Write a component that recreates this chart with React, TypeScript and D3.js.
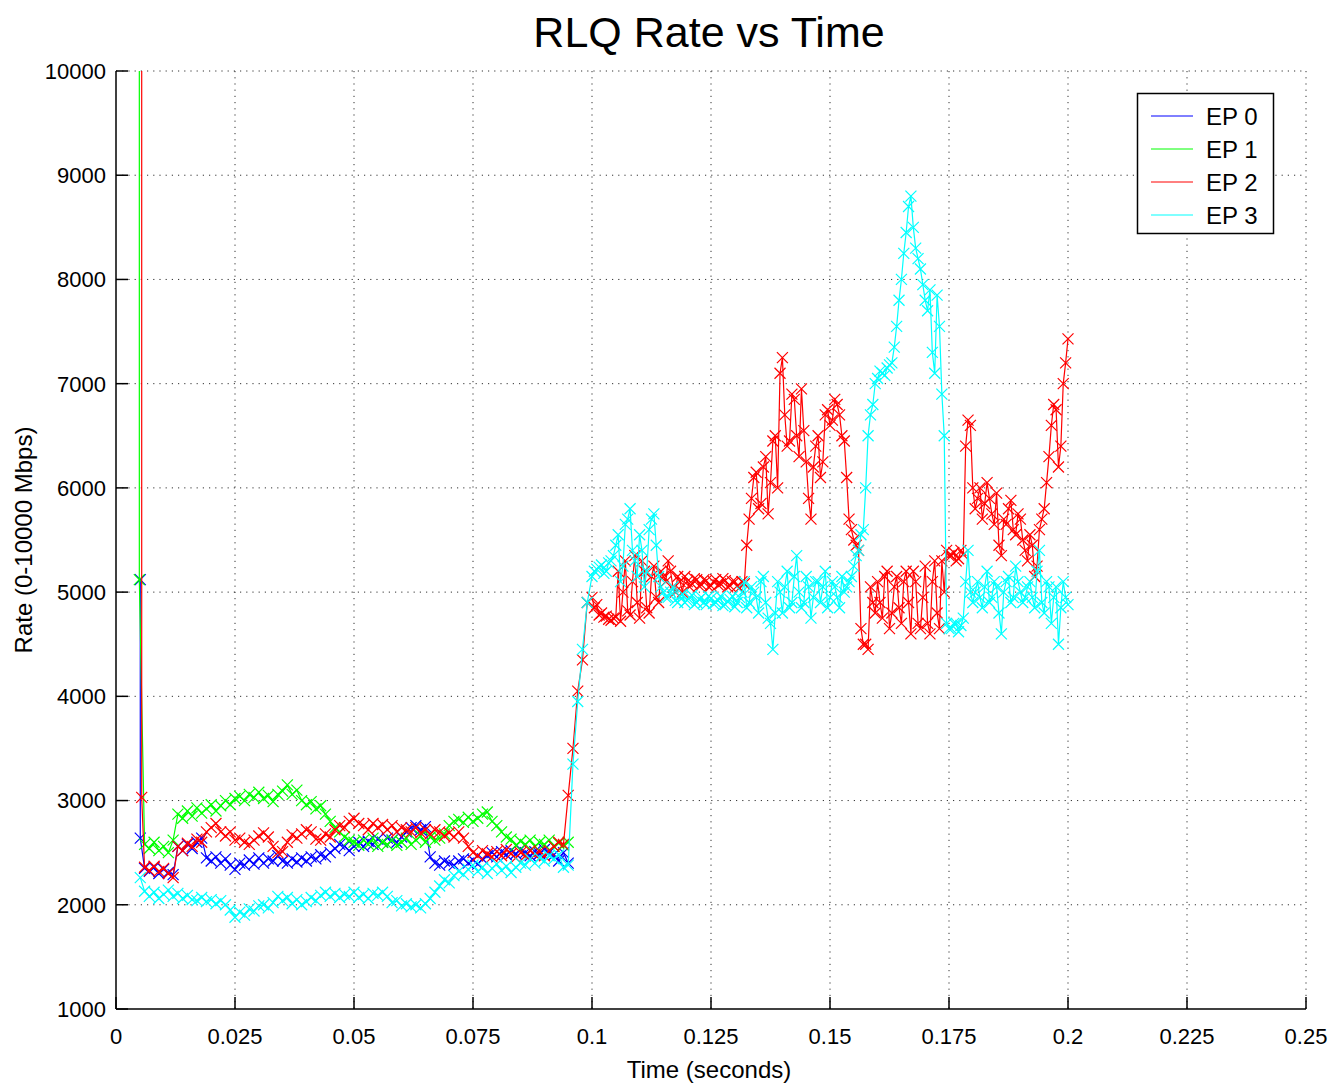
import React from "react";
import * as d3 from "d3";

// ---------- data ----------
const xTicks = [0, 0.025, 0.05, 0.075, 0.1, 0.125, 0.15, 0.175, 0.2, 0.225, 0.25];
const yTicks = [1000, 2000, 3000, 4000, 5000, 6000, 7000, 8000, 9000, 10000];
const seriesNames = ["EP 0", "EP 1", "EP 2", "EP 3"];
const seriesColors = ["#0000ff", "#00ff00", "#ff0000", "#00ffff"];

const leadTimes = [0.0051, 0.0049, 0.0054, 0.0051]; // time of the initial samples per series
const startTime = 0.006; // regular samples start
const sampleStep = 0.001;
const midStartTime = 0.1005; // extra half-step samples (dense part)

const ep0Lead = [5120, 2640];
const ep0Values = [
  2350, 2320, 2360, 2300, 2340, 2310, 2290, 2560, 2520, 2580,
  2540, 2600, 2640, 2450, 2420, 2460, 2400, 2440, 2380, 2340,
  2400, 2380, 2430, 2390, 2450, 2400, 2440, 2420, 2470, 2420,
  2400, 2440, 2410, 2450, 2420, 2460, 2440, 2480, 2460, 2500,
  2540, 2580, 2560, 2520, 2560, 2600, 2560, 2610, 2580, 2630,
  2600, 2640, 2620, 2600, 2650, 2700, 2740, 2760, 2720, 2750,
  2460, 2400, 2380, 2420, 2400, 2380, 2420, 2440, 2400, 2430,
  2390, 2440, 2470, 2500, 2460, 2510, 2480, 2520, 2490, 2530,
  2500, 2470, 2510, 2490, 2530, 2500, 2480, 2420, 2500, 2400,
];

const ep1Lead = [12000, 5120];
const ep1Values = [
  2580, 2540, 2600, 2520, 2560, 2500, 2620, 2870, 2830, 2900,
  2850, 2930, 2880, 2920, 2960, 2900, 2950, 3000, 2960, 3020,
  3040, 3000, 3060, 3030, 3080, 3020, 3050, 2990, 3060, 3090,
  3150, 3060, 3100, 3000, 2960, 2990, 2920, 2950, 2870, 2800,
  2740, 2700, 2650, 2620, 2600, 2570, 2620, 2580, 2640, 2560,
  2600, 2580, 2620, 2570, 2600, 2640, 2580, 2620, 2660, 2600,
  2650, 2620, 2640, 2680, 2760, 2800, 2820, 2790, 2840, 2800,
  2830, 2870, 2890, 2800, 2760, 2700, 2650, 2630, 2570, 2610,
  2580, 2620, 2560, 2600, 2580, 2620, 2560, 2590, 2570, 2600,
];

const ep2Lead = [12000, 3030];
const ep2Values = [
  2360, 2330, 2370, 2320, 2350, 2300, 2260, 2560, 2520, 2590,
  2560, 2630, 2600, 2700, 2740, 2780, 2700, 2660, 2700, 2620,
  2640, 2600, 2580, 2620, 2660, 2690, 2650, 2560, 2500, 2510,
  2600, 2670, 2640, 2680, 2720, 2700, 2630, 2620, 2680, 2650,
  2720, 2760, 2740, 2800, 2830, 2780, 2760, 2720, 2780, 2740,
  2770, 2720, 2760, 2700, 2740, 2720, 2700, 2740, 2690, 2720,
  2680, 2720, 2700, 2660, 2690, 2650, 2700, 2640, 2560, 2500,
  2470, 2520, 2490, 2460, 2510, 2470, 2530, 2490, 2450, 2500,
  2470, 2520, 2480, 2510, 2470, 2520, 2560, 2600, 2580, 3050,
  3500, 4050, 4350, 4900, 4950, 4880, 4800, 4770, 4730, 4760,
  4720, 5300, 4780, 5350, 4750, 5200, 4800, 5250, 4900, 5150,
  5300, 5050, 5150, 5000, 5100, 5080, 5120, 5070, 5110, 5060,
  5120, 5080, 5110, 5060, 5100, 5040, 5080, 5700, 6100, 5800,
  6200, 5750, 6450, 6000, 7250, 6400, 6900, 6500, 6950, 6250,
  5700, 6400, 6100, 6700, 6600, 6850, 6700, 6450, 5700, 5500,
  5400, 4500, 4450, 4900, 5100, 4750, 5200, 4800, 5150, 4700,
  5200, 4600, 5100, 4650, 5250, 4600, 5300, 4650, 5000, 5350,
  5380, 5320, 5360, 6650, 6000, 5900, 5700, 6050, 5750, 5950,
  5350, 5650, 5880, 5550, 5700, 5400, 5550, 5150, 5600, 5800,
  6300, 6800, 6200, 7000, 7430,
];
const ep2Mid = [
  4850, 4780, 4760, 4740, 4750, 5200, 5000, 4820, 5100, 4900,
  5300, 4850, 5150, 4950, 5200, 5100, 5200, 5000, 5100, 5150,
  5050, 5130, 5060, 5120, 5050, 5100, 5070, 5130, 5050, 5100,
  5060, 5100, 5450, 5900, 6150, 5850, 6300, 6050, 6500, 7100,
  6700, 6450, 6850, 6300, 6550, 5900, 6200, 6500, 6250, 6750,
  6650, 6800, 6500, 6100, 5600, 5450, 4650, 4500, 5050, 4800,
  4900, 5150, 4650, 5050, 4850, 5100, 4900, 5200, 4700, 4950,
  4700, 5100, 4800, 5300, 5400, 5350, 5300, 5400, 6400, 6600,
  5800, 6000, 5850, 5900, 5650, 5450, 5700, 5800, 5600, 5750,
  5500, 5300, 5450, 5250, 5700, 6050, 6600, 6750, 6400, 7200,
];

const ep3Lead = [2260];
const ep3Values = [
  2130, 2080, 2120, 2060, 2100, 2140, 2080, 2110, 2060, 2090,
  2050, 2040, 2070, 2030, 2050, 2010, 2040, 2000, 1950, 1880,
  1930, 1900, 1960, 1940, 1990, 2000, 1970, 2020, 2080, 2040,
  2070, 2010, 2050, 2000, 2030, 2070, 2040, 2090, 2120, 2080,
  2110, 2070, 2100, 2080, 2120, 2070, 2100, 2060, 2110, 2090,
  2120, 2080, 2020, 2040, 1990, 2010, 1980, 2000, 1970, 2010,
  2060, 2120, 2180, 2240, 2210, 2280, 2320, 2290, 2340, 2380,
  2320, 2360, 2300, 2350, 2390, 2330, 2370, 2310, 2360, 2400,
  2380, 2440, 2400, 2450, 2420, 2470, 2440, 2480, 2360, 2380,
  3350, 3950, 4450, 4900, 5150, 5220, 5260, 5200, 5300, 5450,
  5100, 5650, 5800, 5300, 5550, 5050, 5600, 5750, 5150, 5000,
  4950, 5050, 4900, 4980, 4920, 4970, 4900, 4950, 4880, 4940,
  4900, 4960, 4880, 4930, 4860, 4950, 5100, 4900, 5000, 4800,
  5150, 4750, 4450, 5100, 4800, 5200, 4900, 5350, 4850, 5150,
  4750, 5100, 4900, 5200, 4950, 5050, 4850, 5000, 5100, 5250,
  5400, 5600, 6500, 6800, 7050, 7100, 7150, 7200, 7550, 8000,
  8450, 8800, 8300, 8100, 7800, 7900, 7100, 7550, 6500, 4650,
  4700, 4620, 4750, 5400, 4900, 5100, 4850, 5200, 4950, 5050,
  4600, 5100, 4900, 5250, 5000, 4950, 5100, 4850, 5400, 4800,
  5050, 4950, 4500, 5100, 4880,
];
const ep3Mid = [
  5200, 5240, 5180, 5280, 5350, 5550, 5250, 5700, 5400, 5150,
  5400, 5200, 5700, 5450, 5050, 4950, 5000, 4920, 4960, 4900,
  4950, 4880, 4930, 4900, 4960, 4890, 4920, 4870, 4910, 4960,
  4900, 5000, 4850, 5050, 4950, 5100, 4900, 4700, 4800, 5000,
  5050, 4850, 5150, 5000, 4900, 5050, 4950, 5100, 5050, 4850,
  5100, 4950, 5150, 5050, 5150, 5350, 5550, 6000, 6700, 7000,
  7120, 7080, 7180, 7350, 7800, 8250, 8700, 8500, 8200, 7950,
  7700, 7300, 7850, 6900, 4700, 4650, 4700, 4680, 5100, 5000,
  5000, 4950, 5050, 4900, 5100, 4800, 5000, 5150, 4950, 5100,
  4900, 5050, 4950, 5200, 4900, 5100, 4700, 5050, 4850, 4950,
];

const leads = [ep0Lead, ep1Lead, ep2Lead, ep3Lead];
const valueSets = [ep0Values, ep1Values, ep2Values, ep3Values];
const midSets: number[][] = [[], [], ep2Mid, ep3Mid];

// ---------- layout ----------
const W = 1332;
const H = 1084;
const left = 116;
const right = 1306;
const top = 71;
const bottom = 1009;
const FONT = "'Liberation Sans', Arial, Helvetica, sans-serif";

type Pt = [number, number];

function buildSeries(leadT: number, lead: number[], vals: number[], mid: number[]): Pt[] {
  const lead0: Pt[] = lead.map((v) => [leadT, v] as Pt);
  const rest: Pt[] = [];
  vals.forEach((v, i) => rest.push([startTime + i * sampleStep, v]));
  mid.forEach((v, i) => rest.push([midStartTime + i * sampleStep, v]));
  rest.sort((a, b) => a[0] - b[0]);
  return lead0.concat(rest);
}

export default function App() {
  const x = d3.scaleLinear().domain([0, 0.25]).range([left, right]);
  const y = d3.scaleLinear().domain([1000, 10000]).range([bottom, top]);
  const line = d3
    .line<Pt>()
    .x((d) => x(d[0]))
    .y((d) => y(d[1]));

  const series = valueSets.map((vals, i) =>
    buildSeries(leadTimes[i], leads[i], vals, midSets[i])
  );
  const m = 5.5;
  const markerPath = `M${-m},${-m}L${m},${m}M${-m},${m}L${m},${-m}`;

  const fmtX = (v: number) => (v === 0 ? "0" : String(v));

  return (
    <svg
      width={W}
      height={H}
      style={{ position: "absolute", left: 0, top: 0, background: "#fff" }}
      fontFamily={FONT}
    >
      <defs>
        <clipPath id="plotClip">
          <rect x={left} y={top} width={right - left} height={bottom - top} />
        </clipPath>
      </defs>
      <rect x={0} y={0} width={W} height={H} fill="#fff" />

      {/* grid */}
      <g stroke="#000" strokeWidth={1} strokeDasharray="1.2,5" opacity={0.8}>
        {xTicks.slice(1).map((t) => (
          <line key={"gx" + t} x1={x(t)} x2={x(t)} y1={top} y2={bottom} />
        ))}
        {yTicks.slice(1).map((t) => (
          <line key={"gy" + t} x1={left} x2={right} y1={y(t)} y2={y(t)} />
        ))}
      </g>

      {/* data */}
      <g clipPath="url(#plotClip)">
        {series.map((pts, i) => (
          <g key={seriesNames[i]} stroke={seriesColors[i]} fill="none" strokeWidth={1.2}>
            <path d={line(pts) || ""} />
            {pts.map((p, j) => (
              <path
                key={j}
                d={markerPath}
                transform={`translate(${x(p[0])},${y(p[1])})`}
              />
            ))}
          </g>
        ))}
      </g>

      {/* axes */}
      <g stroke="#000" strokeWidth={1.5} fill="none">
        <line x1={left} x2={left} y1={top} y2={bottom} />
        <line x1={left} x2={right} y1={bottom} y2={bottom} />
        {yTicks.map((t) => (
          <line key={"ty" + t} x1={left} x2={left + 12} y1={y(t)} y2={y(t)} />
        ))}
        {xTicks.map((t) => (
          <line key={"tx" + t} x1={x(t)} x2={x(t)} y1={bottom} y2={bottom - 12} />
        ))}
      </g>

      {/* tick labels */}
      <g fontSize={22} fill="#000">
        {yTicks.map((t) => (
          <text key={"ly" + t} x={left - 10} y={y(t)} dy="0.36em" textAnchor="end">
            {t}
          </text>
        ))}
        {xTicks.map((t) => (
          <text key={"lx" + t} x={x(t)} y={bottom + 35} textAnchor="middle">
            {fmtX(t)}
          </text>
        ))}
      </g>

      {/* title and axis labels */}
      <text x={709} y={47} fontSize={43} textAnchor="middle" fill="#000">
        RLQ Rate vs Time
      </text>
      <text x={709} y={1078} fontSize={24} textAnchor="middle" fill="#000">
        Time (seconds)
      </text>
      <text
        transform={`translate(32,${(top + bottom) / 2}) rotate(-90)`}
        fontSize={24}
        textAnchor="middle"
        fill="#000"
      >
        Rate (0-10000 Mbps)
      </text>

      {/* legend */}
      <g>
        <rect x={1137.5} y={93.5} width={136} height={140} fill="#fff" stroke="#000" strokeWidth={1.5} />
        {seriesNames.map((name, i) => {
          const yy = 116 + i * 33;
          return (
            <g key={"lg" + name}>
              <line x1={1151} x2={1193} y1={yy} y2={yy} stroke={seriesColors[i]} strokeWidth={1} />
              <text x={1206} y={yy} dy="0.36em" fontSize={24} fill="#000">
                {name}
              </text>
            </g>
          );
        })}
      </g>
    </svg>
  );
}
